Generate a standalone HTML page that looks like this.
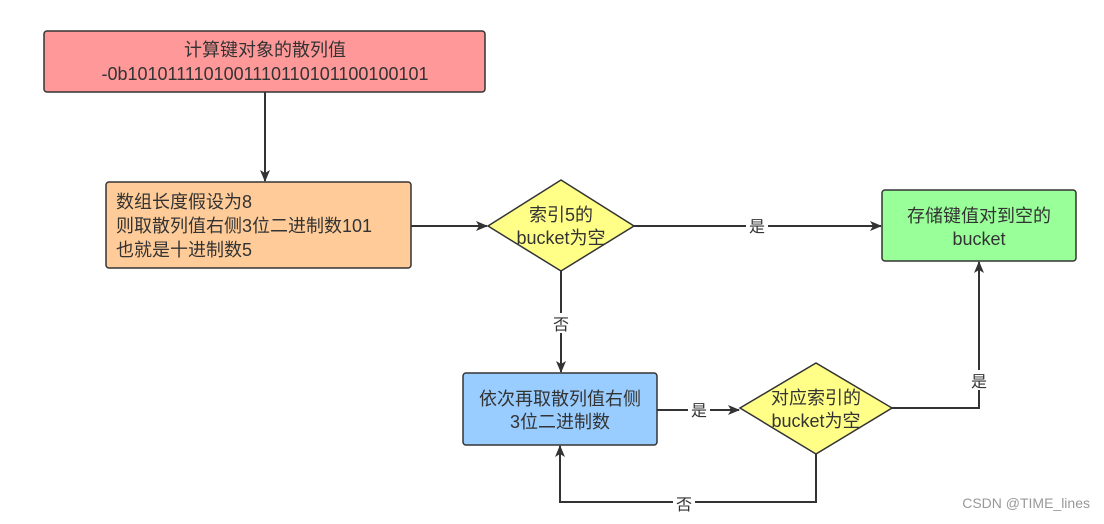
<!DOCTYPE html>
<html><head><meta charset="utf-8"><style>
body{margin:0;background:#fff;}
svg text{font-family:"Liberation Sans","Noto Sans CJK SC",sans-serif;fill:#333;}
</style></head><body>
<svg width="1104" height="519" viewBox="0 0 1104 519" xmlns="http://www.w3.org/2000/svg">
<defs><marker id="a" markerWidth="12" markerHeight="12" refX="11" refY="6" orient="auto" markerUnits="userSpaceOnUse"><path d="M0,1 L12,6 L0,11 L3,6 z" fill="#333"/></marker></defs>
<g stroke="#333" stroke-width="2" fill="none">
<line x1="265" y1="92" x2="265" y2="181" marker-end="url(#a)"/>
<line x1="411" y1="226" x2="487" y2="226" marker-end="url(#a)"/>
<line x1="634" y1="226" x2="881" y2="226" marker-end="url(#a)"/>
<line x1="561" y1="271" x2="561" y2="372" marker-end="url(#a)"/>
<line x1="657" y1="410" x2="739" y2="410" marker-end="url(#a)"/>
<polyline points="892,408 979,408 979,262" marker-end="url(#a)"/>
<polyline points="816,454 816,502 560,502 560,446" marker-end="url(#a)"/>
</g>
<rect x="44" y="31" width="441" height="61" rx="3" fill="#ff9999" stroke="#333" stroke-width="1.5"/>
<rect x="106" y="182" width="305" height="86" rx="3" fill="#ffcc99" stroke="#333" stroke-width="1.5"/>
<polygon points="488,226 561,180 634,226 561,271" fill="#ffff88" stroke="#333" stroke-width="1.5"/>
<rect x="882" y="190" width="194" height="71" rx="3" fill="#99ff99" stroke="#333" stroke-width="1.5"/>
<rect x="463" y="373" width="194" height="72" rx="3" fill="#99ccff" stroke="#333" stroke-width="1.5"/>
<polygon points="740,408 816,363 892,408 816,454" fill="#ffff88" stroke="#333" stroke-width="1.5"/>
<g font-size="18">
<text x="265" y="56" text-anchor="middle">计算键对象的散列值</text>
<text x="265" y="80" text-anchor="middle">-0b1010111101001110110101100100101</text>
<text x="116" y="208">数组长度假设为8</text>
<text x="116" y="232">则取散列值右侧3位二进制数101</text>
<text x="116" y="256">也就是十进制数5</text>
<text x="561" y="221" text-anchor="middle">索引5的</text>
<text x="561" y="244" text-anchor="middle">bucket为空</text>
<text x="979" y="222" text-anchor="middle">存储键值对到空的</text>
<text x="979" y="245" text-anchor="middle">bucket</text>
<text x="560" y="405" text-anchor="middle">依次再取散列值右侧</text>
<text x="560" y="428" text-anchor="middle">3位二进制数</text>
<text x="816" y="404" text-anchor="middle">对应索引的</text>
<text x="816" y="427" text-anchor="middle">bucket为空</text>
</g>
<g font-size="16">
<rect x="746" y="216" width="22" height="20" fill="#fff"/><text x="757" y="232" text-anchor="middle">是</text>
<rect x="550" y="313" width="22" height="20" fill="#fff"/><text x="561" y="330" text-anchor="middle">否</text>
<rect x="688" y="400" width="22" height="20" fill="#fff"/><text x="699" y="416" text-anchor="middle">是</text>
<rect x="968" y="370" width="22" height="20" fill="#fff"/><text x="979" y="387" text-anchor="middle">是</text>
<rect x="673" y="493" width="22" height="20" fill="#fff"/><text x="684" y="510" text-anchor="middle">否</text>
</g>
<text x="1090" y="508" text-anchor="end" font-size="14" style="fill:#999">CSDN @TIME_lines</text>
</svg>
</body></html>
